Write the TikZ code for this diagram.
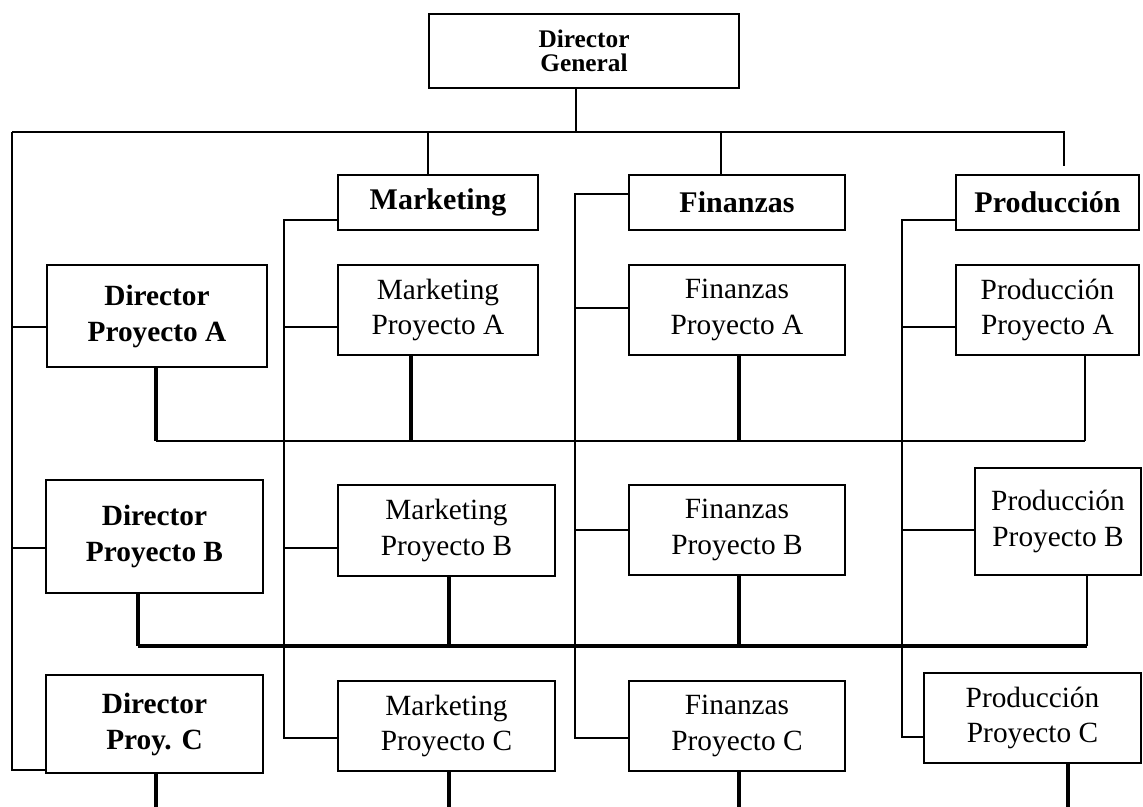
\documentclass[tikz,border=0pt]{standalone}
\usepackage{fontspec}
\setmainfont{Liberation Serif}
\usepackage{tikz}
\usetikzlibrary{positioning}

\begin{document}
\begin{tikzpicture}[x=0.75pt,y=0.75pt,yscale=-1,xscale=1,
  caja/.style={draw, line width=1.5pt, inner sep=0pt, outer sep=0pt, align=center, font=\fontsize{22}{26.5}\selectfont},
  cajab/.style={caja, font=\bfseries\fontsize{22}{27}\selectfont},
  linea/.style={line width=1.5pt},
  gruesa/.style={line width=2.6pt}]
\path[use as bounding box] (0,0) rectangle (1143,807);

% Text Node
\node [caja, minimum width=232.5pt, minimum height=55.5pt, font=\bfseries\fontsize{19}{18}\selectfont] (dg) at (584,51) {Director\\General};
% Text Node
\node [cajab, minimum width=150pt, minimum height=41.25pt, font=\bfseries\fontsize{22.5}{27}\selectfont] (mkt) at (438,202.5) {Marketing};
% Text Node
\node [cajab, minimum width=162pt, minimum height=41.25pt, font=\bfseries\fontsize{22.5}{27}\selectfont] (fin) at (737,202.5) {Finanzas};
% Text Node
\node [cajab, minimum width=137.25pt, minimum height=41.25pt, font=\bfseries\fontsize{22.5}{27}\selectfont] (prod) at (1047.5,202.5) {Producción};

% Text Node
\node [cajab, minimum width=165pt, minimum height=76.5pt] (dpa) at (157,316) {Director\\Proyecto A};
% Text Node
\node [caja, minimum width=150pt, minimum height=67.5pt] (mpa) at (438,310) {Marketing\\Proyecto A};
% Text Node
\node [caja, minimum width=162pt, minimum height=67.5pt] (fpa) at (737,310) {Finanzas\\Proyecto A};
% Text Node
\node [caja, minimum width=137.25pt, minimum height=67.5pt] (ppa) at (1047.5,310) {Producción\\Proyecto A};

% Text Node
\node [cajab, minimum width=162.75pt, minimum height=84.75pt] (dpb) at (154.5,536.5) {Director\\Proyecto B};
% Text Node
\node [caja, minimum width=162.75pt, minimum height=68.25pt] (mpb) at (446.5,530.5) {Marketing\\Proyecto B};
% Text Node
\node [caja, minimum width=162pt, minimum height=67.5pt] (fpb) at (737,530) {Finanzas\\Proyecto B};
% Text Node
\node [caja, minimum width=124.5pt, minimum height=80.25pt] (ppb) at (1058,521.5) {Producción\\Proyecto B};

% Text Node
\node [cajab, minimum width=162.75pt, minimum height=73.5pt] (dpc) at (154.5,724) {Director\\Proy. C};
% Text Node
\node [caja, minimum width=162.75pt, minimum height=67.5pt] (mpc) at (446.5,726) {Marketing\\Proyecto C};
% Text Node
\node [caja, minimum width=162pt, minimum height=67.5pt] (fpc) at (737,726) {Finanzas\\Proyecto C};
% Text Node
\node [caja, minimum width=162.75pt, minimum height=67.5pt] (ppc) at (1032.5,718) {Producción\\Proyecto C};

% bus points
\coordinate (t0) at (12,132);
\coordinate (t1) at (1064,132);
\coordinate (tp) at (1064,166);
\coordinate (tg) at (576,132);
\coordinate (tm) at (428,132);
\coordinate (tf) at (721,132);
\coordinate (d1) at (12,327);
\coordinate (d2) at (12,548);
\coordinate (d3) at (12,770);
\coordinate (m0) at (284,220);
\coordinate (m1) at (284,327);
\coordinate (m2) at (284,548);
\coordinate (m3) at (284,738);
\coordinate (f0) at (575,194);
\coordinate (f1) at (575,308);
\coordinate (f2) at (575,530);
\coordinate (f3) at (575,738);
\coordinate (p0) at (902,220);
\coordinate (p1) at (902,327);
\coordinate (p2) at (902,530);
\coordinate (p3) at (902,737);
\coordinate (a0) at (156,441);
\coordinate (a1) at (411,441);
\coordinate (a2) at (739,441);
\coordinate (a3) at (1085,441);
\coordinate (b0) at (138,646);
\coordinate (b1) at (449,646);
\coordinate (b2) at (739,646);
\coordinate (b3) at (1087,646);
\coordinate (c0) at (156,807);
\coordinate (c1) at (449,807);
\coordinate (c2) at (739,807);
\coordinate (c3) at (1068,807);

%Straight Lines
\draw [linea] (tg |- dg.south) -- (tg) ;
\draw [linea] (t0) -- (t1) -- (tp) ;
\draw [linea] (tm) -- (tm |- mkt.north) ;
\draw [linea] (tf) -- (tf |- fin.north) ;
%Straight Lines
\draw [linea] (t0) -- (d3) -- (d3 -| dpc.west) ;
\draw [linea] (d1) -- (d1 -| dpa.west) ;
\draw [linea] (d2) -- (d2 -| dpb.west) ;
%Straight Lines
\draw [linea] (m0 -| mkt.west) -- (m0) -- (m3) -- (m3 -| mpc.west) ;
\draw [linea] (m1) -- (m1 -| mpa.west) ;
\draw [linea] (m2) -- (m2 -| mpb.west) ;
%Straight Lines
\draw [linea] (f0 -| fin.west) -- (f0) -- (f3) -- (f3 -| fpc.west) ;
\draw [linea] (f1) -- (f1 -| fpa.west) ;
\draw [linea] (f2) -- (f2 -| fpb.west) ;
%Straight Lines
\draw [linea] (p0 -| prod.west) -- (p0) -- (p3) -- (p3 -| ppc.west) ;
\draw [linea] (p1) -- (p1 -| ppa.west) ;
\draw [linea] (p2) -- (p2 -| ppb.west) ;

%Straight Lines
\draw [linea] (a0) -- (a3) ;
\draw [gruesa] (a0 |- dpa.south) -- (a0) ;
\draw [gruesa] (a1 |- mpa.south) -- (a1) ;
\draw [gruesa] (a2 |- fpa.south) -- (a2) ;
\draw [linea] (a3 |- ppa.south) -- (a3) ;
%Straight Lines
\draw [gruesa] (b0) -- (b3) ;
\draw [gruesa] (b0 |- dpb.south) -- (b0) ;
\draw [gruesa] (b1 |- mpb.south) -- (b1) ;
\draw [gruesa] (b2 |- fpb.south) -- (b2) ;
\draw [linea] (b3 |- ppb.south) -- (b3) ;
%Straight Lines
\draw [gruesa] (c0 |- dpc.south) -- (c0) ;
\draw [gruesa] (c1 |- mpc.south) -- (c1) ;
\draw [gruesa] (c2 |- fpc.south) -- (c2) ;
\draw [gruesa] (c3 |- ppc.south) -- (c3) ;

\end{tikzpicture}
\end{document}
